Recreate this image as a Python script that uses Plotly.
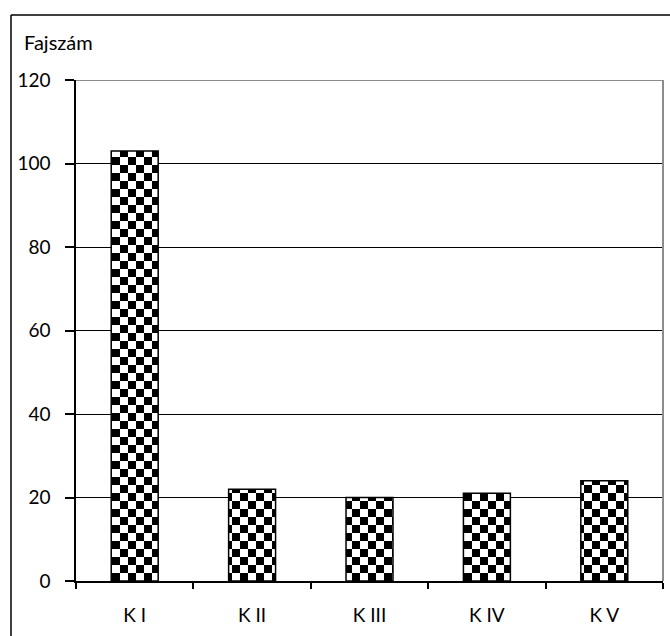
import plotly.graph_objects as go

# ---- data ----
categories = ["K I", "K II", "K III", "K IV", "K V"]
values = [103, 22, 20, 21, 24]
y_ticks = [0, 20, 40, 60, 80, 100, 120]
y_label = "Fajszám"

# ---- layout constants ----
W, H = 670, 636
ML, MR, MT, MB = 76, 7, 80, 55
plot_w = W - ML - MR
plot_h = H - MT - MB
YMAX = 120
SQ_PX = 8                      # checker square size in pixels
row = SQ_PX * YMAX / plot_h    # checker row height in data units
FONT = "Lato"
FS = 19


def px_x(xw):   # pixel x -> paper x
    return (xw - ML) / plot_w


def px_y(yw):   # pixel y -> paper y
    return (H - MB - yw) / plot_h


# build checkerboard rows: alternating inverted stripe patterns
ev_x, ev_b, ev_y = [], [], []
od_x, od_b, od_y = [], [], []
for c, v in zip(categories, values):
    b, k = 0.0, 0
    while b < v - 1e-9:
        h = min(row, v - b)
        if k % 2 == 0:
            ev_x.append(c); ev_b.append(b); ev_y.append(h)
        else:
            od_x.append(c); od_b.append(b); od_y.append(h)
        b += row
        k += 1

fig = go.Figure()
fig.add_trace(go.Bar(
    x=ev_x, y=ev_y, base=ev_b, width=0.4,
    marker=dict(color="white", line=dict(width=0),
                pattern=dict(shape="|", size=2 * SQ_PX, solidity=0.5,
                             fgcolor="black", bgcolor="white", fillmode="replace")),
    hoverinfo="skip", showlegend=False))
fig.add_trace(go.Bar(
    x=od_x, y=od_y, base=od_b, width=0.4,
    marker=dict(color="black", line=dict(width=0),
                pattern=dict(shape="|", size=2 * SQ_PX, solidity=0.5,
                             fgcolor="white", bgcolor="black", fillmode="replace")),
    hoverinfo="skip", showlegend=False))
fig.add_trace(go.Bar(
    x=categories, y=values, width=0.4,
    marker=dict(color="rgba(0,0,0,0)", line=dict(color="black", width=1.5)),
    hoverinfo="skip", showlegend=False))

# outer chart border (left, top) - right/bottom lie outside the picture
fig.add_shape(type="line", xref="paper", yref="paper",
              x0=px_x(11), x1=px_x(11), y0=px_y(15), y1=px_y(H + 5),
              line=dict(color="black", width=1.5))
fig.add_shape(type="line", xref="paper", yref="paper",
              x0=px_x(11), x1=px_x(W + 5), y0=px_y(15), y1=px_y(15),
              line=dict(color="black", width=1.5))
# plot-area border (top & right)
fig.add_shape(type="line", xref="paper", yref="y", x0=0, x1=1, y0=YMAX, y1=YMAX,
              line=dict(color="#8c8c8c", width=2))
fig.add_shape(type="line", xref="paper", yref="y", x0=1, x1=1, y0=0, y1=YMAX,
              line=dict(color="#8c8c8c", width=2))

fig.add_annotation(text=y_label, xref="paper", yref="paper",
                   x=px_x(22), y=px_y(42),
                   xanchor="left", yanchor="middle", showarrow=False,
                   font=dict(family=FONT, size=20, color="black"))

fig.update_layout(
    width=W, height=H, barmode="overlay",
    margin=dict(l=ML, r=MR, t=MT, b=MB, autoexpand=False),
    paper_bgcolor="white", plot_bgcolor="white",
    font=dict(family=FONT, size=FS, color="black"),
    xaxis=dict(type="category", categoryorder="array", categoryarray=categories,
               range=[-0.5, 4.5], showline=True, linecolor="black", linewidth=1.5,
               ticks="outside", tickson="boundaries", ticklen=6, tickcolor="black",
               tickwidth=1.5, showgrid=False, ticklabelstandoff=16,
               tickfont=dict(family=FONT, size=FS, color="black")),
    yaxis=dict(range=[0, YMAX], tickvals=y_ticks, showline=True, linecolor="black",
               linewidth=1.5, ticks="outside", ticklen=9, tickcolor="black", tickwidth=1.5,
               showgrid=True, gridcolor="black", gridwidth=1, zeroline=False,
               ticklabelstandoff=11,
               tickfont=dict(family=FONT, size=FS, color="black")),
)

fig.write_html("out.html",
               config={"displayModeBar": False},
               post_script="document.body.style.margin='0';document.body.style.overflow='hidden';")
